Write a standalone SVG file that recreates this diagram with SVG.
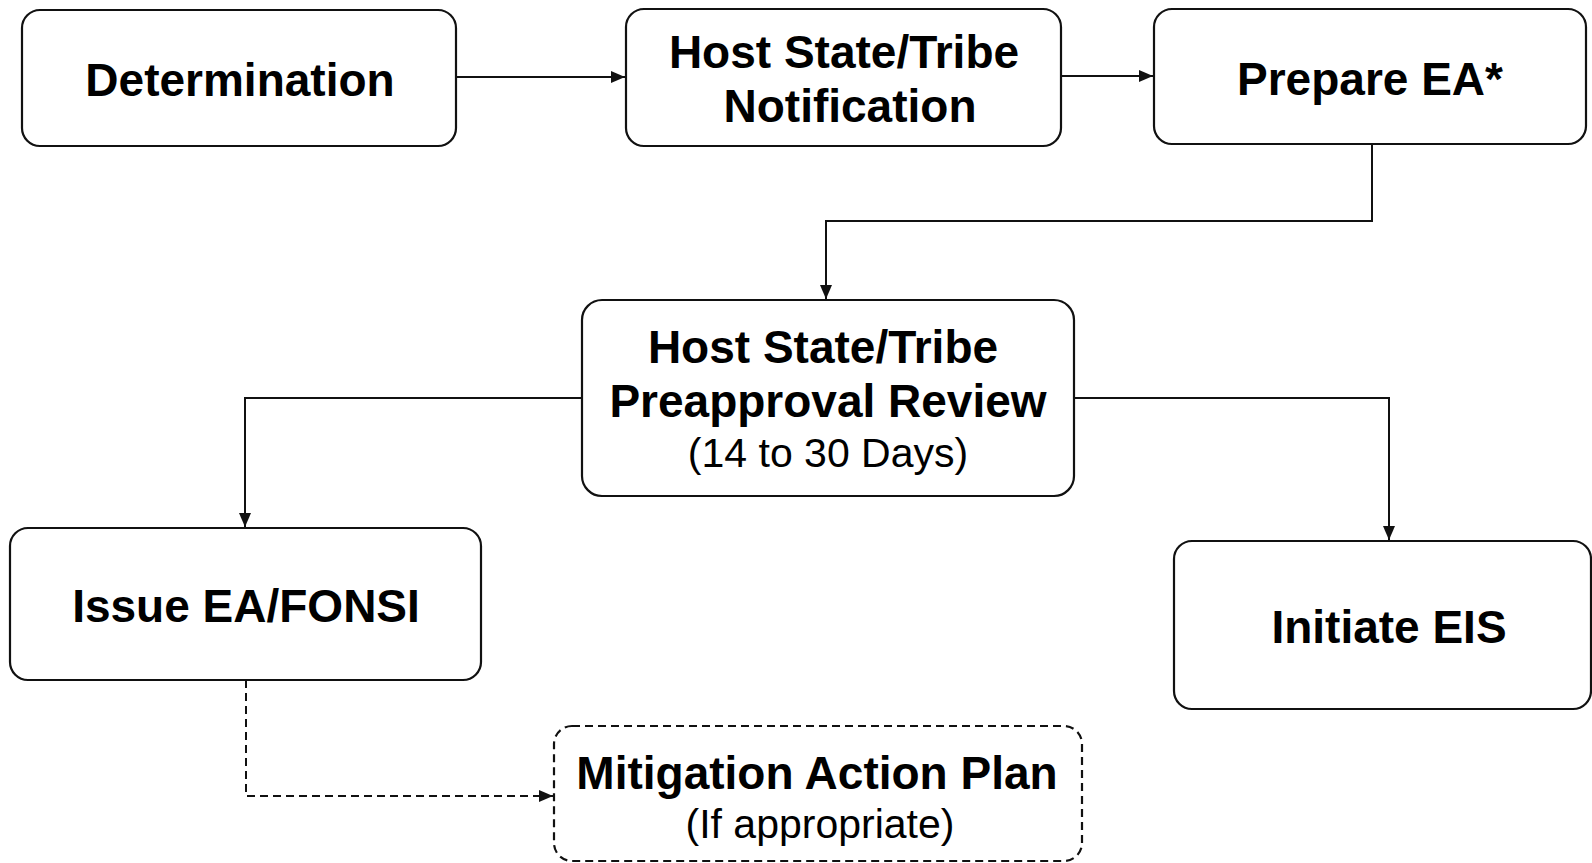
<svg xmlns="http://www.w3.org/2000/svg" width="1592" height="863" viewBox="0 0 1592 863">
<style>
.box{fill:#fff;stroke:#111;stroke-width:2.2}
.dash{stroke-dasharray:8 5}
.b{font-family:"Liberation Sans",Arial,sans-serif;font-weight:bold;font-size:46px;fill:#000;text-anchor:middle}
.r{font-family:"Liberation Sans",Arial,sans-serif;font-size:41px;fill:#000;text-anchor:middle}
.ln{fill:none;stroke:#111;stroke-width:2}
</style>
<defs>
<marker id="ah" viewBox="0 0 14 12" refX="14" refY="6" markerWidth="14" markerHeight="12" markerUnits="userSpaceOnUse" orient="auto">
<path d="M0,0 L14,6 L0,12 Z" fill="#111"/>
</marker>
</defs>
<rect width="1592" height="863" fill="#fff"/>
<g id="connectors">
<path class="ln" d="M456,77 H625" marker-end="url(#ah)"/>
<path class="ln" d="M1061,76 H1153" marker-end="url(#ah)"/>
<path class="ln" d="M1372,144 V221 H826 V299" marker-end="url(#ah)"/>
<path class="ln" d="M582,398 H245 V527" marker-end="url(#ah)"/>
<path class="ln" d="M1074,398 H1389 V540" marker-end="url(#ah)"/>
<path class="ln dash" d="M246,680 V796 H553" marker-end="url(#ah)"/>
</g>
<g id="determination">
<rect class="box" x="22" y="10" width="434" height="136" rx="18"/>
<text class="b" x="240" y="96">Determination</text>
</g>
<g id="notification">
<rect class="box" x="626" y="9" width="435" height="137" rx="18"/>
<text class="b" x="844" y="68">Host State/Tribe</text>
<text class="b" x="850" y="122">Notification</text>
</g>
<g id="prepare">
<rect class="box" x="1154" y="9" width="432" height="135" rx="18"/>
<text class="b" x="1370" y="95">Prepare EA*</text>
</g>
<g id="preapproval">
<rect class="box" x="582" y="300" width="492" height="196" rx="20"/>
<text class="b" x="823" y="363">Host State/Tribe</text>
<text class="b" x="828" y="417">Preapproval Review</text>
<text class="r" x="828" y="467">(14 to 30 Days)</text>
</g>
<g id="issue">
<rect class="box" x="10" y="528" width="471" height="152" rx="18"/>
<text class="b" x="246" y="622">Issue EA/FONSI</text>
</g>
<g id="initiate">
<rect class="box" x="1174" y="541" width="417" height="168" rx="18"/>
<text class="b" x="1389" y="643">Initiate EIS</text>
</g>
<g id="mitigation">
<rect class="box dash" x="554" y="726" width="528" height="135" rx="18"/>
<text class="b" x="817" y="789">Mitigation Action Plan</text>
<text class="r" x="820" y="838">(If appropriate)</text>
</g>
</svg>
